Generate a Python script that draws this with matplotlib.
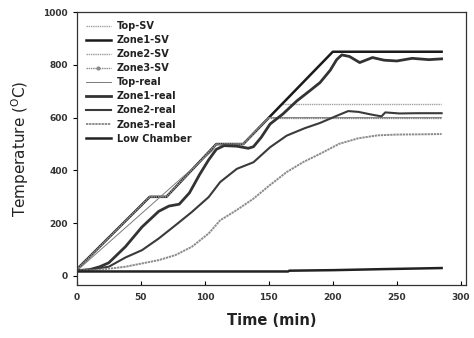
"""
Furnace zone temperatures: set values vs measured
"""

import numpy as np
import matplotlib.pyplot as plt

# ─────────────────────────────────────────────
# 1. DATA
# ─────────────────────────────────────────────
# set-value profiles (time in min, temperature in degC)
top_sv_t = [0, 57, 70, 109, 130, 160, 285]
top_sv_y = [25, 300, 300, 500, 500, 650, 650]

zone1_sv_t = [0, 57, 70, 109, 130, 200, 285]
zone1_sv_y = [25, 300, 300, 500, 500, 850, 850]

zone2_sv_t = [0, 57, 70, 109, 130, 150, 285]
zone2_sv_y = [25, 300, 300, 500, 500, 600, 600]

zone3_sv_t = [0, 57, 70, 109, 130, 149, 285]
zone3_sv_y = [25, 300, 300, 500, 500, 597, 597]

top_real_t = [0, 2, 106, 109, 130, 150, 285]
top_real_y = [25, 28, 475, 497, 502, 600, 600]

zone1_real_t = [0, 10, 18, 25, 38, 51, 64, 72, 80, 88, 96, 103, 109, 115,
                125, 134, 138, 144, 151, 161, 172, 182, 190, 198, 203, 207,
                213, 221, 231, 240, 250, 262, 275, 285]
zone1_real_y = [20, 24, 35, 50, 111, 186, 245, 265, 272, 315, 385, 440, 480,
                494, 492, 484, 490, 525, 576, 614, 664, 702, 733, 780, 820,
                838, 832, 809, 828, 818, 815, 825, 820, 823]

zone2_real_t = [0, 10, 25, 38, 51, 64, 77, 90, 103, 112, 125, 138, 151, 164,
                178, 190, 203, 212, 220, 230, 238, 241, 252, 265, 285]
zone2_real_y = [20, 24, 35, 70, 98, 142, 192, 243, 299, 356, 406, 431, 488,
                532, 560, 580, 607, 625, 622, 612, 605, 620, 616, 617, 617]

zone3_real_t = [0, 15, 38, 64, 77, 90, 103, 112, 125, 138, 151, 164, 177,
                190, 205, 220, 235, 250, 270, 285]
zone3_real_y = [20, 22, 35, 60, 79, 111, 161, 211, 250, 293, 345, 394, 432,
                463, 501, 522, 533, 536, 537, 538]

low_t = [0, 50, 100, 165, 166, 200, 240, 285]
low_y = [17, 17, 17, 17, 20, 22, 26, 30]

# ─────────────────────────────────────────────
# 2. PLOT
# ─────────────────────────────────────────────
fig = plt.figure(figsize=(4.74, 3.38), dpi=100)
ax = fig.add_axes([0.162, 0.157, 0.821, 0.807])

ax.plot(top_sv_t, top_sv_y, color="#a0a0a0", lw=1.0, ls=(0, (1, 0.6)), label="Top-SV")
ax.plot(zone1_sv_t, zone1_sv_y, color="#1a1a1a", lw=1.8, label="Zone1-SV")
ax.plot(zone2_sv_t, zone2_sv_y, color="#9a9a9a", lw=1.0, ls=(0, (1, 0.6)), label="Zone2-SV")
ax.plot(zone3_sv_t, zone3_sv_y, color="#8a8a8a", lw=1.0, ls=(0, (1, 0.6)),
        marker=".", markevery=[0], markersize=4, label="Zone3-SV")
ax.plot(top_real_t, top_real_y, color="#7a7a7a", lw=0.7, label="Top-real")
ax.plot(zone1_real_t, zone1_real_y, color="#333333", lw=2.0, label="Zone1-real")
ax.plot(zone2_real_t, zone2_real_y, color="#3a3a3a", lw=1.5, label="Zone2-real")
ax.plot(zone3_real_t, zone3_real_y, color="#8c8c8c", lw=1.4, ls=(0, (1.2, 0.4)), label="Zone3-real")
ax.plot(low_t, low_y, color="#222222", lw=1.8, label="Low Chamber")

ax.set_xlim(0, 304)
ax.set_ylim(-34, 1000)
ax.set_xticks(np.arange(0, 301, 50))
ax.set_yticks(np.arange(0, 1001, 200))
ax.tick_params(axis="both", labelsize=6.5, length=3, width=0.8)
ax.tick_params(axis="x", direction="in", pad=6)
for lbl in ax.get_xticklabels() + ax.get_yticklabels():
    lbl.set_fontweight("bold")
    lbl.set_color("#333333")

for sp in ax.spines.values():
    sp.set_linewidth(0.9)
    sp.set_color("#333333")

ax.set_xlabel("Time (min)", fontsize=10.5, fontweight="bold", labelpad=8, color="#222222")
ax.set_ylabel("Temperature ($^{\\mathrm{O}}$C)", fontsize=11, labelpad=9, color="#222222")

leg = ax.legend(loc="upper left", frameon=False, fontsize=7, handlelength=2.6,
                labelspacing=0.42, borderaxespad=0.5, handletextpad=0.6)
for txt in leg.get_texts():
    txt.set_fontweight("bold")
    txt.set_color("#222222")

fig.savefig("out.png", dpi=100)
